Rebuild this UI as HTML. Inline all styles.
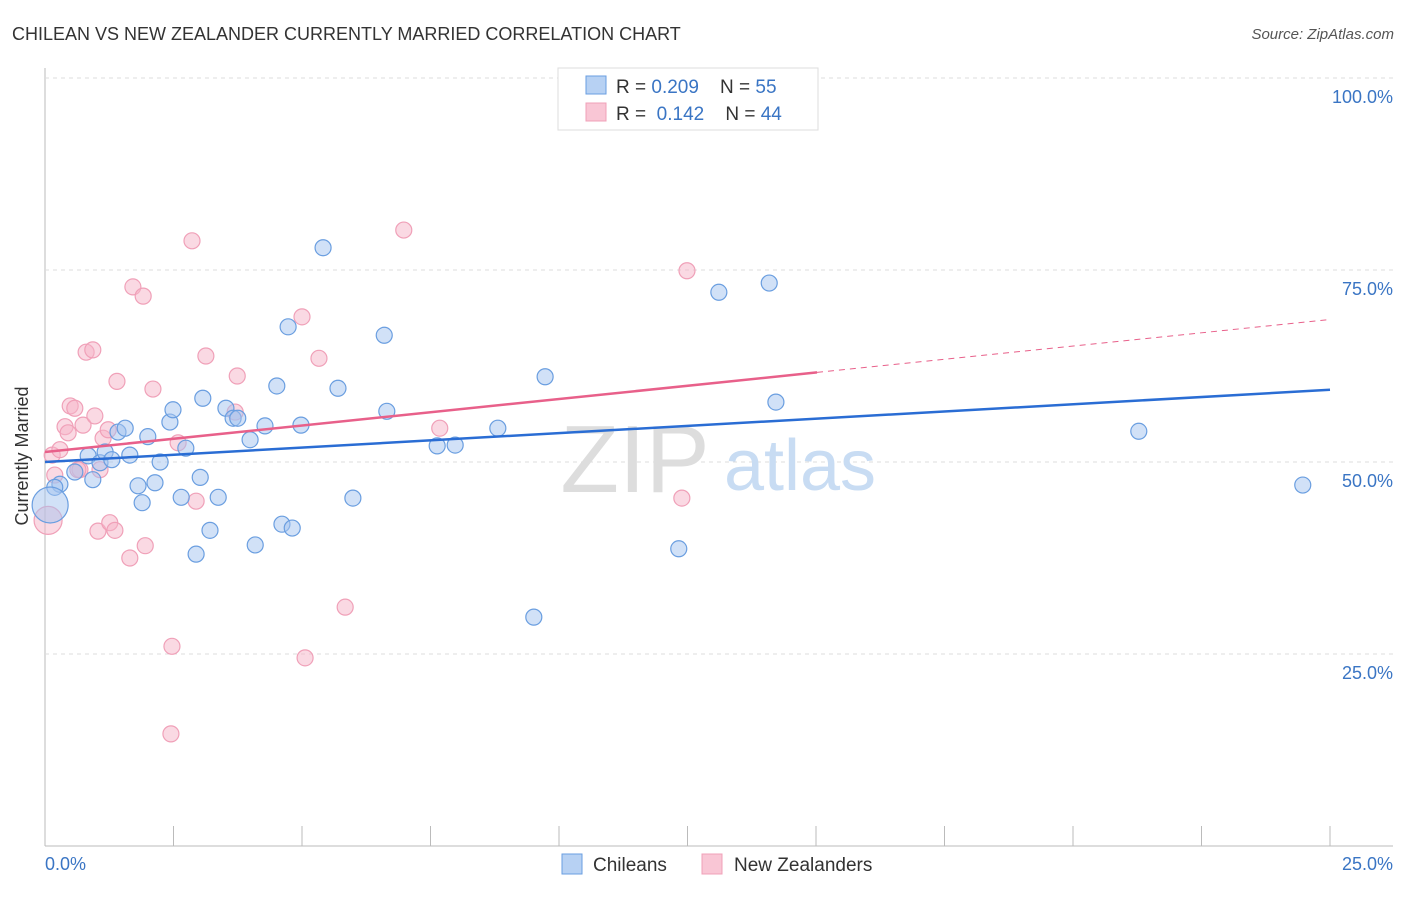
<!DOCTYPE html>
<html><head><meta charset="utf-8"><style>
body{margin:0;background:#fff;font-family:"Liberation Sans",sans-serif}
svg text{font-family:"Liberation Sans",sans-serif}
.pre{white-space:pre}
</style></head><body>
<svg id="chart" width="1406" height="892" xmlns="http://www.w3.org/2000/svg">
<text x="12" y="40" font-size="18" fill="#333">CHILEAN VS NEW ZEALANDER CURRENTLY MARRIED CORRELATION CHART</text>
<text x="1394" y="39" font-size="15" fill="#555" text-anchor="end" font-style="italic">Source: ZipAtlas.com</text>
<g id="grid"></g>
<g><text x="635" y="492" font-size="96" fill="#ddd" text-anchor="middle" font-family="Liberation Serif">ZIP</text><text x="800" y="490" font-size="72" fill="#c8dcf3" text-anchor="middle">atlas</text></g>
<g id="marks"></g>
<text transform="translate(28,456) rotate(-90)" font-size="18" fill="#333" text-anchor="middle">Currently Married</text>
<text x="45" y="870" font-size="18" fill="#3a75c4">0.0%</text>
<text x="1393" y="870" font-size="18" fill="#3a75c4" text-anchor="end">25.0%</text>
<g>
<rect x="558" y="68" width="260" height="62" fill="#fff" stroke="#ddd"/>
<rect x="586" y="76" width="20" height="18" fill="#b7d1f3" stroke="#6a9ee0"/>
<rect x="586" y="103" width="20" height="18" fill="#f9c6d5" stroke="#f0a0b8"/>
<text x="616" y="93" font-size="19" fill="#333" class="pre" xml:space="preserve">R = <tspan fill="#3a75c4">0.209</tspan>    N = <tspan fill="#3a75c4">55</tspan></text>
<text x="616" y="120" font-size="19" fill="#333" class="pre" xml:space="preserve">R =  <tspan fill="#3a75c4">0.142</tspan>    N = <tspan fill="#3a75c4">44</tspan></text>
</g>
<g>
<rect x="562" y="854" width="20" height="20" fill="#b7d1f3" stroke="#6a9ee0"/>
<text x="593" y="871" font-size="19" fill="#333">Chileans</text>
<rect x="702" y="854" width="20" height="20" fill="#f9c6d5" stroke="#f0a0b8"/>
<text x="734" y="871" font-size="19" fill="#333">New Zealanders</text>
</g>
</svg>
<script>
const blueX=[0.29,0.58,0.84,0.93,1.07,1.17,1.30,1.42,1.56,1.65,1.81,1.89,2.00,2.14,2.24,2.43,2.49,2.65,2.74,2.94,3.02,3.07,3.21,3.37,3.52,3.66,3.75,3.99,4.09,4.28,4.51,4.61,4.73,4.81,4.98,5.41,5.70,5.99,6.60,6.65,7.63,7.98,8.81,9.51,9.73,12.33,13.11,14.09,14.22,21.28,24.47,0.19];
const blueY=[47.1,48.7,50.8,47.7,49.9,51.3,50.3,53.9,54.4,50.9,46.9,44.7,53.3,47.3,50.0,55.2,56.8,45.4,51.8,38.0,48.0,58.3,41.1,45.4,57.0,55.7,55.7,52.9,39.2,54.7,59.9,41.9,67.6,41.4,54.8,77.9,59.6,45.3,66.5,56.6,52.1,52.2,54.4,29.8,61.1,38.7,72.1,73.3,57.8,54.0,47.0,46.7];
const pinkX=[0.14,0.19,0.39,0.45,0.49,0.58,0.68,0.74,0.80,0.93,0.97,1.03,1.13,1.23,1.26,1.36,1.40,1.65,1.71,1.91,1.95,2.10,2.47,2.45,2.59,2.86,2.94,3.13,3.74,3.70,5.00,5.06,5.33,5.84,6.98,7.68,12.39,12.49,0.29,1.07,0.64];
const pinkY=[50.9,48.3,54.6,53.8,57.3,57.0,49.0,54.8,64.3,64.6,56.0,41.0,53.1,54.2,42.1,41.1,60.5,37.5,72.8,71.6,39.1,59.5,26.0,14.6,52.5,78.8,44.9,63.8,61.2,56.5,68.9,24.5,63.5,31.1,80.2,54.4,45.3,74.9,51.6,49.0,49.0];
const bigBlue=[0.10,44.4], bigPink=[0.06,42.4];
const blueTrend=[50.0,0.376];
const pinkTrend=[51.3,0.69];
const pinkSolidEnd=15.02;
const yTicks=[25,50,75,100];
const NS="http://www.w3.org/2000/svg";
const sx=v=>45+v/25*1285, sy=v=>846-v/100*768;
const grid=document.getElementById('grid'), marks=document.getElementById('marks');
function mk(t,a,p){const e=document.createElementNS(NS,t);for(const k in a)e.setAttribute(k,a[k]);(p||marks).appendChild(e);return e;}
let e=mk('line',{x1:45,y1:68,x2:45,y2:846,stroke:'#bbb'},grid);


e=mk('line',{x1:45,y1:846,x2:1393,y2:846,stroke:'#bbb'},grid);


for(let i=1;i<=10;i++){const x=45+i*128.5;e=mk('line',{x1:x,y1:826,x2:x,y2:846,stroke:'#bbb'},grid);

}
e=mk('line',{x1:45,y1:78,x2:1393,y2:78,stroke:'#ddd','stroke-dasharray':'4,4'},grid);


yTicks.forEach(t=>{const y=sy(t);
e=mk('line',{x1:45,y1:y,x2:1393,y2:y,stroke:'#ddd','stroke-dasharray':'4,4'},grid);


e=mk('text',{x:1393,y:y+25,'font-size':18,fill:'#3a75c4','text-anchor':'end'},grid);e.textContent=t.toFixed(1)+'%';

});
function dot(x,y,r,c){const f=c==='b'?'rgba(164,196,240,0.5)':'rgba(246,180,200,0.5)',s=c==='b'?'#6a9ee0':'#f0a0b8';
const el=mk('circle',{cx:sx(x),cy:sy(y),r:r,fill:f,stroke:s,'stroke-width':1.2});

}
pinkX.forEach((x,i)=>dot(x,pinkY[i],8,'p'));
dot(bigPink[0],bigPink[1],14,'p');
blueX.forEach((x,i)=>dot(x,blueY[i],8,'b'));
dot(bigBlue[0],bigBlue[1],18,'b');
e=mk('line',{x1:sx(0),y1:sy(blueTrend[0]),x2:sx(25),y2:sy(blueTrend[0]+25*blueTrend[1]),stroke:'#2a6dd4','stroke-width':2.5});


e=mk('line',{x1:sx(0),y1:sy(pinkTrend[0]),x2:sx(pinkSolidEnd),y2:sy(pinkTrend[0]+pinkSolidEnd*pinkTrend[1]),stroke:'#e8608a','stroke-width':2.5});


e=mk('line',{x1:sx(pinkSolidEnd),y1:sy(pinkTrend[0]+pinkSolidEnd*pinkTrend[1]),x2:sx(25),y2:sy(pinkTrend[0]+25*pinkTrend[1]),stroke:'#e8608a','stroke-width':1,'stroke-dasharray':'6,5'});


</script>
</body></html>
